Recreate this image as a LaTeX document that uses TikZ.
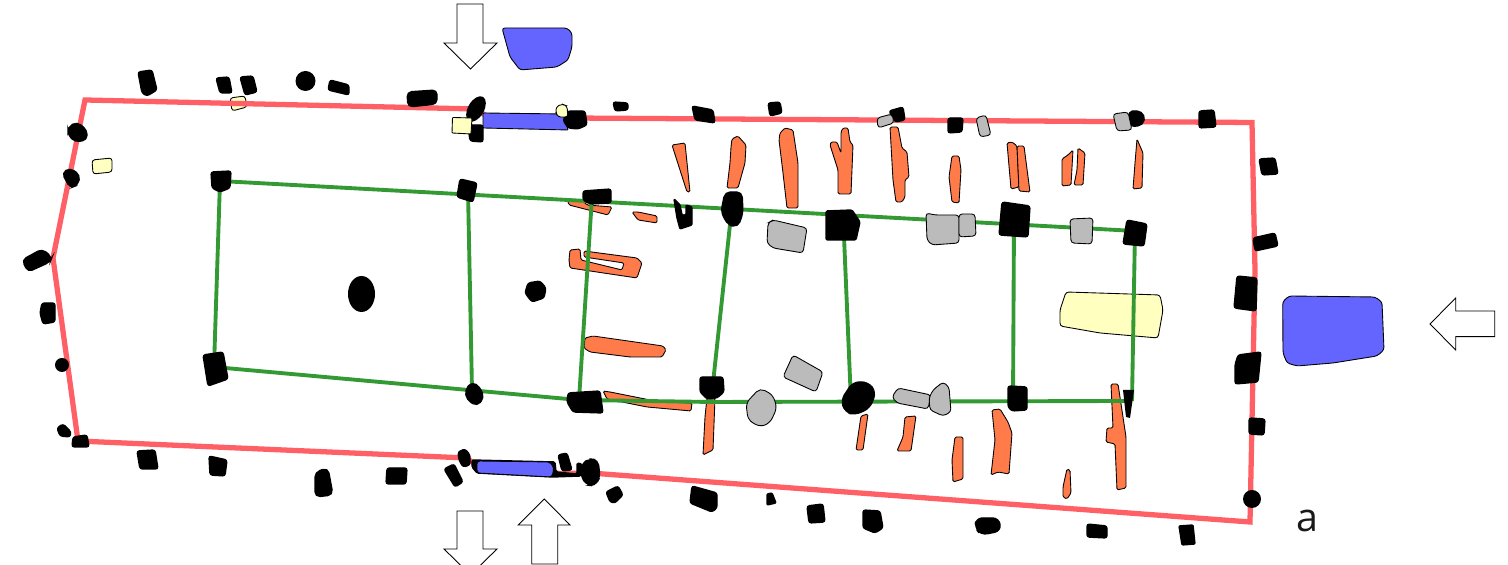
\documentclass[tikz,border=0pt]{standalone}
\usepackage{fontspec}
\setmainfont{Open Sans}
\definecolor{wallred}{HTML}{FF6066}
\definecolor{framegreen}{HTML}{339933}
\definecolor{doorblue}{HTML}{6464FF}
\definecolor{woodorange}{HTML}{FF7B4A}
\definecolor{paleyellow}{HTML}{FFFFC0}
\definecolor{stonegray}{HTML}{BBBBBB}
\begin{document}
\begin{tikzpicture}
[x=0.01cm,y=-0.01cm,
post/.style={fill=black,draw=black,line width=0.4pt,rounded corners=0.7pt},
wood/.style={fill=woodorange,draw=black,line width=0.25pt,rounded corners=0.4pt},
stone/.style={fill=stonegray,draw=black,line width=0.25pt,rounded corners=0.9pt},
pale/.style={fill=paleyellow,draw=black,line width=0.25pt,rounded corners=0.8pt},
door/.style={fill=doorblue,draw=black,line width=0.25pt,rounded corners=0.8pt},
wall/.style={draw=wallred,line width=1.5pt,line join=miter},
frame/.style={draw=framegreen,line width=1.1pt},
way/.style={fill=white,draw=black,line width=0.25pt}]
\useasboundingbox (0,0) rectangle (1508,565);
\clip (0,0) rectangle (1508,565);
% pale patches under the wall
\path[pale] (230,98) -- (245,96) -- (247,107) -- (232,111) -- cycle;
\path[pale] (92,160) -- (112,158) -- (112,172) -- (93,174) -- cycle;
\path[pale] (1066,292) -- (1160,295) -- (1163,310) -- (1158,338) -- (1100,333) -- (1060,326) -- (1060,310) -- cycle;
% wall
\path[wall] (85,100) -- (475,109) -- (490,118) -- (570,118) -- (1252,122.5) -- (1255,270) -- (1250,522) -- (590,473) -- (560,473.5) -- (480,467) -- (466,458) -- (78,441) -- (53,258) -- cycle;
% planks
\path[wood] (672,145) -- (685,143) -- (690,192) -- (687,192) -- cycle;
\path[wood] (732,139) -- (738,136) -- (746,145) -- (745,163) -- (738,188) -- (727,188) -- (730,163) -- (731,147) -- cycle;
\path[wood] (780,133) -- (785,128) -- (793,130) -- (798,163) -- (798,208) -- (787,208) -- (783,173) -- (779,140) -- cycle;
\path[wood] (830,145) -- (831,142) -- (837,142) -- (841,153) -- (841,132) -- (843,128) -- (848,128) -- (850,142) -- (853,145) -- (851,194) -- (838,194) -- (838,170) -- cycle;
\path[wood] (890,127) -- (898,127) -- (902,148) -- (907,152) -- (909,177) -- (905,180) -- (905,197) -- (902,202) -- (896,202) -- (893,180) -- cycle;
\path[wood] (952,156) -- (959,156) -- (961,170) -- (959,203) -- (952,202) -- (949,177) -- cycle;
\path[wood] (1007,143) -- (1012,142) -- (1017,146) -- (1019,187) -- (1011,189) -- cycle;
\path[wood] (1017,146) -- (1024,146) -- (1030,192) -- (1019,191) -- cycle;
\path[wood] (1062,159) -- (1068,155) -- (1073,150) -- (1071,185) -- (1062,186) -- cycle;
\path[wood] (1078,148) -- (1085,153) -- (1083,185) -- (1074,185) -- (1077,170) -- cycle;
\path[wood] (1137,139) -- (1143,153) -- (1142,188) -- (1133,189) -- (1135,163) -- cycle;
\path[wood] (567,199) -- (569,205) -- (608,215) -- (612,207) -- (587,205) -- (582,200) -- cycle;
\path[wood] (632,212) -- (638,212) -- (657,216) -- (657,223) -- (638,220) -- cycle;
\path[wood] (570,250) -- (580,249) -- (581,260) -- (622,270) -- (624,263) -- (584,257) -- (584,251) -- (637,258) -- (642,263) -- (637,278) -- (570,268) -- (569,260) -- cycle;
\path[wood] (585,338) -- (593,336) -- (663,346) -- (666,350) -- (662,357) -- (630,357) -- (590,352) -- (584,348) -- cycle;
\path[wood] (603,391) -- (610,392) -- (660,402) -- (692,403) -- (691,411) -- (647,407) -- (607,399) -- cycle;
\path[wood] (707,398) -- (715,398) -- (713,450) -- (703,455) -- (705,417) -- cycle;
\path[wood] (861,416) -- (868,414) -- (863,450) -- (856,450) -- cycle;
\path[wood] (905,417) -- (916,416) -- (911,451) -- (897,451) -- (903,437) -- cycle;
\path[wood] (955,437) -- (963,437) -- (963,479) -- (953,482) -- (952,460) -- cycle;
\path[wood] (992,410) -- (1000,409) -- (1008,422) -- (1012,433) -- (1009,474) -- (998,472) -- (991,475) -- (995,440) -- cycle;
\path[wood] (1067,469) -- (1070,470) -- (1071,493) -- (1067,499) -- (1063,497) -- (1063,487) -- cycle;
\path[wood] (1111,384) -- (1118,384) -- (1126,437) -- (1126,488) -- (1117,490) -- (1115,444) -- (1106,442) -- (1107,428) -- (1113,428) -- cycle;
% frame
\coordinate (ta) at (220,181);
\coordinate (tb) at (468,191);
\coordinate (tc) at (592,197);
\coordinate (td) at (732,206);
\coordinate (te) at (843,213);
\coordinate (tf) at (1014,222);
\coordinate (tg) at (1135,231);
\coordinate (ba) at (214,367);
\coordinate (bb) at (472,390);
\coordinate (bc) at (579,400);
\coordinate (bd) at (711,402);
\coordinate (be) at (851,402);
\coordinate (bf) at (1013,402);
\coordinate (bg) at (1132,401);
\path[frame] (ta) -- (tg);
\path[frame] (ba) -- (bc) -- (bd) -- (bg);
\path[frame] (ta) -- (ba);
\path[frame] (tb) -- (bb);
\path[frame] (tc) -- (bc);
\path[frame] (td) -- (bd);
\path[frame] (te) -- (be);
\path[frame] (tf) -- (bf);
\path[frame] (tg) -- (bg);
% doors
\path[door,rounded corners=0.2pt] (483,113) -- (564,114) -- (568,130) -- (483,128) -- cycle;
\path[door] (502,28) -- (567,28) -- (572,33) -- (572,47) -- (568,60) -- (557,67) -- (520,70) -- (510,57) -- cycle;
\path[door] (1282.7,301.7) -- (1289,296) -- (1375,297) -- (1382,302) -- (1384,350) -- (1377,356) -- (1333,363) -- (1297,366) -- (1287,363) -- (1283,353) -- cycle;
% posts
\path[post] (138,72) -- (152,70) -- (157,90) -- (147,96) -- (142,93) -- cycle;
\path[post] (216,78) -- (229,77) -- (232,93) -- (220,93) -- cycle;
\path[post] (240,77) -- (253,76) -- (257,92) -- (245,95) -- cycle;
\path[fill=black] (305.5,81) ellipse [x radius=10,y radius=10];
\path[post] (330,80) -- (349,85) -- (349,95) -- (328,90) -- cycle;
\path[post,rounded corners=1.3pt] (407,92) -- (437,90) -- (437,104) -- (408,107) -- cycle;
\path[fill=black,rotate around={60:(476,109)}] (476,109) ellipse [x radius=14,y radius=8];
\path[post] (468,125) -- (483,125) -- (483,142) -- (470,141) -- cycle;
\path[post] (568,111) -- (585,111) -- (587,125) -- (578,129) -- (568,128) -- (563,120) -- cycle;
\path[post] (613,102) -- (628,103) -- (628,110) -- (615,111) -- cycle;
\path[post] (692,106) -- (713,110) -- (715,123) -- (695,120) -- cycle;
\path[post] (768,103) -- (780,102) -- (782,113) -- (770,116) -- cycle;
\path[post] (889,111) -- (903,107) -- (905,120) -- (895,122) -- cycle;
\path[post] (948,118) -- (963,118) -- (962,132) -- (948,133) -- cycle;
\path[post,rounded corners=1.3pt] (1128,112) -- (1137,110) -- (1145,115) -- (1143,125) -- (1130,127) -- cycle;
\path[post] (1199,111) -- (1214,110) -- (1216,127) -- (1199,128) -- cycle;
\path[post] (1259,159) -- (1275,158) -- (1278,174) -- (1262,175) -- cycle;
\path[post] (1253,238) -- (1275,233) -- (1278,246) -- (1255,251) -- cycle;
\path[post] (1237,276) -- (1257,278) -- (1256,311) -- (1234,308) -- cycle;
\path[post] (1238,355) -- (1261,352) -- (1258,382) -- (1235,384) -- (1235,365) -- cycle;
\path[post] (1249,418) -- (1265,419) -- (1264,435) -- (1249,434) -- cycle;
\path[fill=black] (1252,499) ellipse [x radius=9,y radius=9];
\path[post,rounded corners=1.3pt] (68,127) -- (77,122) -- (87,130) -- (87,140) -- (75,142) -- (68,135) -- cycle;
\path[post,rounded corners=1.3pt] (62,173) -- (70,168) -- (80,175) -- (78,185) -- (70,188) -- cycle;
\path[post,rounded corners=1.3pt] (22,260) -- (42,249) -- (52,257) -- (50,262) -- (28,272) -- cycle;
\path[post] (42,303) -- (55,303) -- (55,322) -- (43,324) -- (40,313) -- cycle;
\path[fill=black] (62,365) ellipse [x radius=7,y radius=7];
\path[post] (57,428) -- (63,424) -- (71,432) -- (70,437) -- (60,436) -- cycle;
\path[post] (73,437) -- (87,435) -- (89,447) -- (72,447) -- cycle;
\path[post] (137,451) -- (155,450) -- (158,469) -- (140,469) -- cycle;
\path[post] (209,456) -- (227,460) -- (225,476) -- (210,475) -- cycle;
\path[post,rounded corners=1.5pt] (315,472) -- (328,468) -- (333,495) -- (315,497) -- cycle;
\path[post] (387,468) -- (407,468) -- (406,484) -- (386,484) -- cycle;
\path[post] (211,172) -- (231,171) -- (230,188) -- (220,192) -- (212,188) -- cycle;
\path[post] (460,179) -- (477,183) -- (473,202) -- (457,197) -- cycle;
\path[fill=black] (361.5,294) ellipse [x radius=13.5,y radius=18];
\path[post] (203,355) -- (223,352) -- (228,379) -- (208,386) -- cycle;
\path[post] (528,283) -- (540,281) -- (546,288) -- (544,298) -- (532,302) -- (525,293) -- cycle;
\path[post] (583,191) -- (611,189) -- (611,203) -- (590,204) -- (583,200) -- cycle;
\path[post,rounded corners=0.3pt] (674,199) -- (680,205) -- (682,215) -- (686,215) -- (686,205) -- (692,207) -- (692,225) -- (680,229) -- (677,218) -- cycle;
\path[post,rounded corners=1.5pt] (725,192) -- (742,192) -- (743,213) -- (738,227) -- (728,225) -- (721,212) -- cycle;
\path[post,rounded corners=0.4pt] (826,211) -- (852,210) -- (860,222) -- (856,240) -- (826,240) -- cycle;
\path[post] (1002,202) -- (1030,206) -- (1028,237) -- (999,235) -- cycle;
\path[post] (1127,220) -- (1147,224) -- (1144,246) -- (1123,244) -- cycle;
\path[post] (700,377) -- (723,377) -- (724,392) -- (717,398) -- (707,399) -- (700,392) -- cycle;
\path[post,rounded corners=1.3pt] (465,390) -- (472,382) -- (480,387) -- (484,398) -- (477,406) -- (467,400) -- cycle;
\path[post] (568,393) -- (600,391) -- (603,413) -- (573,412) -- (567,402) -- cycle;
\path[post,rounded corners=1.8pt] (841,400) -- (853,382) -- (868,382) -- (876,392) -- (870,408) -- (855,415) -- (845,412) -- cycle;
\path[post] (1008,386) -- (1027,387) -- (1027,410) -- (1012,411) -- (1008,407) -- cycle;
\path[fill=black] (1123,390) -- (1134,390) -- (1130,418) -- (1126,417) -- cycle;
% bottom door and its posts
\path[post,rounded corners=0.4pt] (472,460) -- (555,462) -- (556,472) -- (577,474) -- (577,463) -- (582,464) -- (581,476) -- (553,477) -- (477,473) -- (472,467) -- cycle;
\path[door] (477,461) -- (550,462) -- (554,468) -- (552,477) -- (477,473) -- cycle;
\path[post] (458,452) -- (465,449) -- (470,455) -- (470,465) -- (463,467) -- (459,460) -- cycle;
\path[post] (558,455) -- (567,453) -- (572,470) -- (562,471) -- cycle;
\path[post,rounded corners=1.5pt] (582,463) -- (590,459) -- (598,460) -- (600,477) -- (595,486) -- (587,485) -- (581,477) -- cycle;
\path[post] (444,469) -- (454,464) -- (463,482) -- (455,487) -- cycle;
\path[post] (606,492) -- (618,486) -- (623,495) -- (615,503) -- (610,502) -- cycle;
\path[post] (692,486) -- (717,493) -- (717,508) -- (712,512) -- (690,503) -- cycle;
\path[post,rounded corners=0.3pt] (767,494) -- (772,493) -- (776,503) -- (767,505) -- cycle;
\path[post] (807,506) -- (823,504) -- (825,522) -- (809,523) -- cycle;
\path[post] (863,510) -- (880,511) -- (883,528) -- (875,533) -- (863,528) -- cycle;
\path[post,rounded corners=1.8pt] (976,518) -- (999,518) -- (1001,531) -- (981,535) -- (975,528) -- cycle;
\path[post] (1087,524) -- (1107,526) -- (1107,538) -- (1087,537) -- cycle;
\path[post,rounded corners=0.3pt] (1179,526) -- (1193,525) -- (1195,544) -- (1182,545) -- cycle;
% stones
\path[stone] (877,118) -- (892,114) -- (894,123) -- (878,128) -- cycle;
\path[stone] (976,118) -- (986,115) -- (991,135) -- (980,137) -- cycle;
\path[stone] (1113,114) -- (1128,112) -- (1132,130) -- (1117,131) -- cycle;
\path[stone] (926,213) -- (935,215) -- (959,215) -- (959,243) -- (932,245) -- (927,240) -- cycle;
\path[stone] (959,214) -- (975,214) -- (976,236) -- (959,237) -- cycle;
\path[stone] (1070,219) -- (1093,218) -- (1092,244) -- (1071,243) -- cycle;
\path[stone] (768,223) -- (773,220) -- (807,228) -- (803,253) -- (773,248) -- (767,243) -- cycle;
\path[stone,rounded corners=1.5pt] (746,403) -- (760,388) -- (773,395) -- (777,408) -- (770,423) -- (760,427) -- (748,420) -- cycle;
\path[stone] (793,355) -- (823,372) -- (816,392) -- (783,377) -- cycle;
\path[stone] (892,397) -- (898,388) -- (931,395) -- (928,409) -- (897,403) -- cycle;
\path[stone] (933,390) -- (943,382) -- (949,387) -- (951,412) -- (943,416) -- (930,410) -- (929,398) -- cycle;
% pale blocks at the top door
\path[pale,rounded corners=0.2pt] (452.5,117.5) -- (472,118) -- (471,134) -- (452,133) -- cycle;
\path[pale] (556,107) -- (562,104) -- (567,106) -- (568,117) -- (558,117) -- (556,113) -- cycle;
% arrows
\path[way] (457,4) -- (483,4) -- (483,43) -- (497,43) -- (470.5,69) -- (444,43) -- (457,43) -- cycle;
\path[way] (457,511) -- (483,511) -- (483,549) -- (497,549) -- (470.5,575) -- (444,549) -- (457,549) -- cycle;
\path[way] (544.3,499) -- (570,525) -- (557.7,525) -- (557.7,564) -- (531.7,564) -- (531.7,525) -- (518.3,525) -- cycle;
\path[way] (1430,324) -- (1455.7,298) -- (1455.7,311) -- (1494.7,311) -- (1494.7,336.7) -- (1455.7,336.7) -- (1455.7,350) -- cycle;
\node[text=black!90,font=\fontsize{11.2pt}{13pt}\selectfont,inner sep=0pt] (a) at (1307,521) {a};
\end{tikzpicture}
\end{document}
